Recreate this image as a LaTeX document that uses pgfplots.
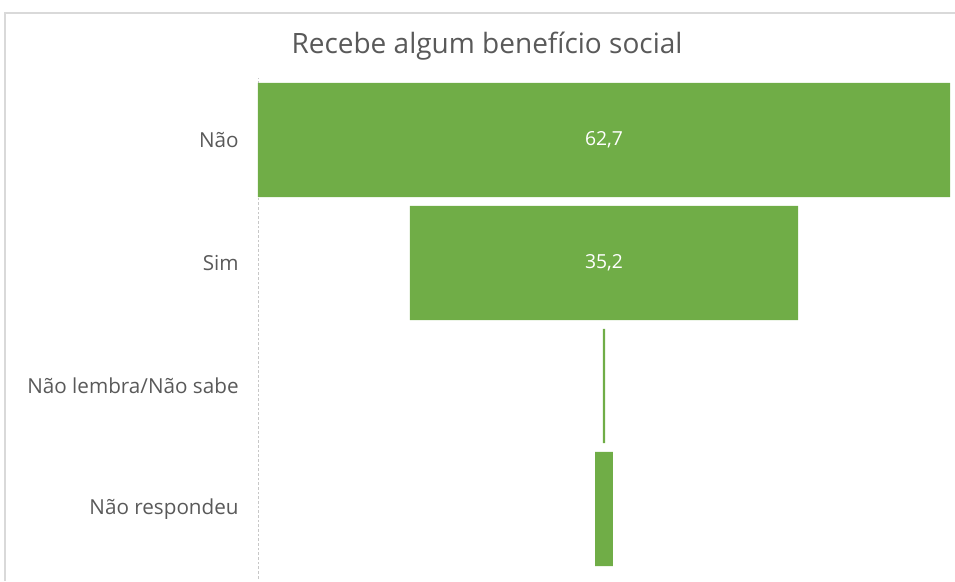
\documentclass[border=0pt]{standalone}
\usepackage{pgfplots}
\pgfplotsset{compat=1.18}
\usepackage{pgfplotstable}
\usepackage{fontspec}
\setmainfont{Open Sans}

\definecolor{barverde}{HTML}{70AD47}
\definecolor{cinza}{HTML}{595959}
\definecolor{moldura}{HTML}{D9D9D9}

% off = deslocamento invisivel (62,7 - v)/2 para centralizar o funil
\pgfplotstableread{
y off v lab
0 0.00 62.7 62,7
1 13.75 35.2 35,2
2 31.25 0.2 {}
3 30.55 1.6 {}
}\funil

\begin{document}
\begin{tikzpicture}
\useasboundingbox (-193.5pt,-7.875pt) rectangle (522.75pt,427.875pt);
% moldura da area do grafico
\draw[moldura, line width=0.8pt] (-189.75pt,-8pt) -- (-189.75pt,418.1pt) -- (530pt,418.1pt);
% linha vertical tracejada do eixo
\draw[moldura!80!gray, dashed, line width=0.6pt, dash pattern=on 2pt off 1.5pt] (0,-6pt) -- (0,369pt);

\begin{axis}[
  at={(0,0)}, anchor=south west,
  scale only axis, width=519pt, height=369pt,
  xbar stacked, bar width=0.927,
  xmin=0, xmax=62.7,
  ymin=-0.5, ymax=3.5, y dir=reverse,
  ytick={0,1,2,3},
  yticklabels={Não, Sim, Não lembra/Não sabe, Não respondeu},
  xtick=\empty,
  major tick length=0pt,
  axis line style={draw=none},
  yticklabel style={font=\fontsize{15.5}{18}\selectfont, text=cinza, xshift=-11pt},
  clip=false,
]
\addplot[draw=none, fill=none] table[x=off, y=y] {\funil};
% nos rotulos de barras empilhadas ficam no centro de cada barra
\addplot[fill=barverde, draw=none,
  point meta=explicit symbolic,
  nodes near coords,
  every node near coord/.append style={anchor=center, text=white,
    font=\fontsize{14.5}{17}\selectfont}]
  table[x=v, y=y, meta=lab] {\funil};
\end{axis}

\node[text=cinza, font=\fontsize{21}{25}\selectfont] at (171.75pt,393pt) {Recebe algum benefício social};
\end{tikzpicture}
\end{document}
